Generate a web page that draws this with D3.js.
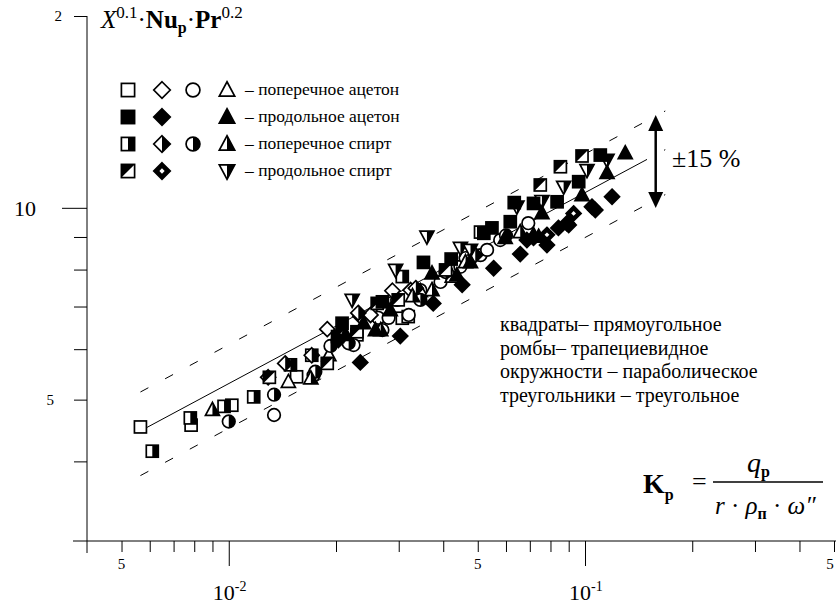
<!DOCTYPE html>
<html>
<head>
<meta charset="utf-8">
<script src="https://cdn.jsdelivr.net/npm/d3@7/dist/d3.min.js"></script>
<style>
  body { margin: 0; background: #fff; }
  svg, svg text, svg tspan { font-family: "Times New Roman", Times, "Liberation Serif", "DejaVu Serif", serif; }
</style>
</head>
<body>
<script>
// data: [x, X^0.1·Nu·Pr^0.2]
const squaresOpen = [[0.00565,4.53],[0.00784,4.56],[0.0102,4.90],[0.0155,5.43],[0.0229,6.32],[0.0307,6.71],[0.0319,6.75]];
const squaresFilled = [[0.0208,6.59],[0.0270,7.12],[0.0352,8.21],[0.0421,8.31],[0.0520,9.12],[0.0548,9.30],[0.0617,9.51],[0.0633,10.19],[0.0717,10.16],[0.0835,10.22],[0.0960,10.99],[0.1104,12.10]];
const squaresHalf = [[0.0061,4.15],[0.0078,4.68],[0.0097,4.88],[0.01175,5.05],[0.0149,5.67],[0.0171,5.87],[0.0307,7.80],[0.0509,9.16]];
const squaresDiag = [[0.0130,5.42],[0.0189,5.70],[0.0202,6.28],[0.0229,6.39],[0.0261,7.08],[0.0299,7.17],[0.0406,7.99],[0.0749,10.86],[0.0853,11.60],[0.0981,12.06]];
const diamondsOpen = [[0.0189,6.45],[0.0234,6.76],[0.0250,6.79],[0.0288,7.41],[0.0324,7.43]];
const diamondsFilled = [[0.0203,6.20],[0.0234,5.72],[0.0303,6.29],[0.0375,7.08],[0.0452,7.57],[0.0554,8.04],[0.0658,8.46],[0.0687,8.90],[0.0782,8.74],[0.0842,9.30],[0.0900,9.40],[0.1046,10.04],[0.1069,9.92],[0.1191,10.41]];
const diamondsHalf = [[0.0129,5.42],[0.0144,5.70],[0.0171,5.87],[0.0231,6.84],[0.0335,7.48],[0.0492,8.43]];
const diamondsDot = [[0.0717,8.97],[0.0782,9.07],[0.0890,9.46],[0.0929,9.80]];
const circlesOpen = [[0.0134,4.73],[0.0173,5.46],[0.0224,6.09],[0.0253,6.79],[0.0263,6.72],[0.0270,6.43],[0.0281,6.72],[0.0297,7.17],[0.0320,6.79],[0.0345,7.43],[0.0393,7.65],[0.0447,8.08],[0.0462,8.34],[0.0509,8.43],[0.0531,8.59],[0.0578,8.90],[0.0693,9.46]];
const circlesHalf = [[0.0100,4.62],[0.0134,5.09],[0.0175,5.53],[0.0193,6.07],[0.0217,6.13],[0.0345,7.17],[0.0406,7.93],[0.0600,9.05]];
const trianglesOpen = [[0.0147,5.33],[0.0191,5.87],[0.0345,7.40],[0.0424,7.80]];
const trianglesFilled = [[0.0213,6.32],[0.0239,6.59],[0.0258,6.43],[0.0284,6.91],[0.0372,7.89],[0.0437,7.84],[0.0477,8.22],[0.0597,8.97],[0.0717,9.07],[0.0741,9.01],[0.0757,9.81],[0.0981,10.47],[0.1153,11.34],[0.1297,12.18]];
const trianglesHalf = [[0.0090,4.82],[0.0170,5.40],[0.0267,6.43],[0.0328,7.27],[0.0372,7.43],[0.0462,8.22],[0.0658,9.16]];
const trianglesDown = [[0.0222,7.17],[0.0294,7.99],[0.0360,9.01],[0.0447,8.65],[0.0477,8.59],[0.0644,10.04],[0.0757,10.25],[0.0871,10.79],[0.1013,11.46],[0.1153,11.89]];

// fit line and ±15 % band (end points)
const fitLine = [[0.00584,4.51],[0.168,12.34]];
const upperLine = [[0.00565,5.14],[0.168,14.19]];
const lowerLine = [[0.00565,3.80],[0.168,10.49]];

// ticks
const xTicks = [0.005,0.006,0.007,0.008,0.009,0.01,0.02,0.03,0.04,0.05,0.06,0.07,0.08,0.09,0.1,0.2,0.3,0.4,0.5];
const xMajor = [0.01, 0.1];
const xFiveLabels = [0.005, 0.05, 0.5];
const xDecadeLabels = [[0.01,'-2'],[0.1,'-1']];
const yTicks = [4,5,6,7,8,9,10,20];
const yLabels = [[20,'2',15,62],[10,'10',22,36],[5,'5',15,54]];

const legendRows = [
  ['– поперечное ацетон', ['square-open','diamond-open','circle-open','triUp-open']],
  ['– продольное ацетон', ['square-fill','diamond-fill',null,'triUp-fill']],
  ['– поперечное спирт', ['square-half','diamond-half','circle-half','triUp-half']],
  ['– продольное спирт', ['square-diag','diamond-dot',null,'triDown-half']]
];
const notes = ['квадраты– прямоугольное','ромбы– трапециевидное','окружности – параболическое','треугольники – треугольное'];

const series = [
  ['square-open', squaresOpen], ['circle-open', circlesOpen], ['diamond-open', diamondsOpen], ['triUp-open', trianglesOpen],
  ['square-half', squaresHalf], ['circle-half', circlesHalf], ['diamond-half', diamondsHalf], ['triUp-half', trianglesHalf],
  ['square-diag', squaresDiag], ['triDown-half', trianglesDown], ['diamond-dot', diamondsDot],
  ['square-fill', squaresFilled], ['diamond-fill', diamondsFilled], ['triUp-fill', trianglesFilled]
];

const width = 836, height = 605;
const svg = d3.select('body').append('svg').attr('width', width).attr('height', height);

const x = d3.scaleLog().domain([0.004, 0.5]).range([87, 834]);
const y = d3.scaleLog().domain([3, 20]).range([541, 16]);

// markers
function drawMarker(g, kind, k = 1) {
  const [shape, style] = kind.split('-');
  const sw = 1.7;
  const base = style === 'fill' || style === 'dot' ? '#000' : '#fff';
  if (shape === 'square') {
    const s = 6 * k;
    g.append('rect').attr('x', -s).attr('y', -s).attr('width', 2 * s).attr('height', 2 * s)
      .attr('fill', base).attr('stroke', '#000').attr('stroke-width', sw);
    if (style === 'half') g.append('rect').attr('x', 0).attr('y', -s).attr('width', s).attr('height', 2 * s).attr('fill', '#000');
    if (style === 'diag') g.append('path').attr('d', `M${-s},${-s}L${s},${-s}L${-s},${s}Z`).attr('fill', '#000');
  } else if (shape === 'diamond') {
    const r = 7.5 * k;
    g.append('path').attr('d', `M0,${-r}L${r},0L0,${r}L${-r},0Z`)
      .attr('fill', base).attr('stroke', '#000').attr('stroke-width', sw);
    if (style === 'half') g.append('path').attr('d', `M0,${-r}L${r},0L0,${r}Z`).attr('fill', '#000');
    if (style === 'dot') {
      const q = r * 0.32;
      g.append('path').attr('d', `M0,${-q}L${q},0L0,${q}L${-q},0Z`).attr('fill', '#fff');
    }
  } else if (shape === 'circle') {
    const r = 6.3 * k;
    g.append('circle').attr('r', r).attr('fill', base).attr('stroke', '#000').attr('stroke-width', sw);
    if (style === 'half') g.append('path').attr('d', `M0,${-r}A${r},${r} 0 0 1 0,${r}Z`).attr('fill', '#000');
  } else {
    const up = shape === 'triUp' ? 1 : -1;
    const t = 7.5 * k, b = 5.5 * k, w = 7 * k;
    g.append('path').attr('d', `M0,${-t * up}L${w},${b * up}L${-w},${b * up}Z`)
      .attr('fill', base).attr('stroke', '#000').attr('stroke-width', sw);
    if (style === 'half') g.append('path').attr('d', `M0,${-t * up}L${w},${b * up}L0,${b * up}Z`).attr('fill', '#000');
  }
}

// axes
const xAxis = svg.append('g').attr('transform', `translate(0,${y(3)})`)
  .call(d3.axisBottom(x).tickValues(xTicks).tickFormat('').tickSizeOuter(0));
xAxis.select('.domain').remove();
xAxis.selectAll('.tick line').attr('y2', d => xMajor.includes(d) ? 25 : 11).attr('stroke', '#000');
svg.append('line').attr('x1', 73).attr('x2', width).attr('y1', y(3)).attr('y2', y(3)).attr('stroke', '#000');

const yAxis = svg.append('g').attr('transform', `translate(${x(0.004)},0)`)
  .call(d3.axisLeft(y).tickValues(yTicks).tickFormat('').tickSizeOuter(0));
yAxis.select('.domain').remove();
yAxis.selectAll('.tick line').attr('x2', d => d === 10 ? -25 : -13).attr('stroke', '#000');
svg.append('line').attr('x1', x(0.004)).attr('x2', x(0.004)).attr('y1', y(20)).attr('y2', 553).attr('stroke', '#000');

svg.selectAll('.x5').data(xFiveLabels).join('text')
  .attr('x', d => Math.min(x(d), width - 6)).attr('y', 569).attr('text-anchor', 'middle').attr('font-size', 15).text('5');
xDecadeLabels.forEach(([v, e]) => {
  const t = svg.append('text').attr('x', x(v) - 16).attr('y', 600).attr('font-size', 22).text('10');
  t.append('tspan').attr('font-size', 14).attr('dy', -9).text(e);
});
yLabels.forEach(([v, s, fs, lx]) => {
  svg.append('text').attr('x', lx).attr('y', y(v) + fs * 0.35)
    .attr('text-anchor', 'end').attr('font-size', fs).text(s);
});

// y title
const yt = svg.append('text').attr('x', 101).attr('y', 28).attr('font-size', 25);
yt.append('tspan').attr('font-style', 'italic').text('X');
yt.append('tspan').attr('font-size', 17).attr('dy', -10).text('0.1');
yt.append('tspan').attr('dy', 10).text('·');
yt.append('tspan').attr('font-weight', 'bold').text('Nu');
yt.append('tspan').attr('font-weight', 'bold').attr('font-size', 16).attr('dy', 5).text('p');
yt.append('tspan').attr('dy', -5).text('·');
yt.append('tspan').attr('font-weight', 'bold').text('Pr');
yt.append('tspan').attr('font-size', 17).attr('dy', -10).text('0.2');

// lines
const line = d3.line().x(d => x(d[0])).y(d => y(d[1]));
svg.append('path').attr('d', line(fitLine)).attr('stroke', '#000').attr('stroke-width', 1).attr('fill', 'none');
[upperLine, lowerLine].forEach(l => svg.append('path').attr('d', line(l))
  .attr('stroke', '#000').attr('stroke-width', 1).attr('stroke-dasharray', '9,19').attr('fill', 'none'));

// points
series.forEach(([kind, data]) => {
  svg.append('g').selectAll('g').data(data).join('g')
    .attr('transform', d => `translate(${x(d[0])},${y(d[1])})`)
    .each(function () { drawMarker(d3.select(this), kind); });
});

// ±15 % arrow
svg.append('rect').attr('x', 647).attr('y', 100).attr('width', 17).attr('height', 120).attr('fill', '#fff');
const ax = 655.7;
svg.append('line').attr('x1', ax).attr('x2', ax).attr('y1', 125).attr('y2', 198).attr('stroke', '#000').attr('stroke-width', 2.5);
svg.append('path').attr('d', `M${ax},115L${ax + 7.5},131L${ax - 7.5},131Z`).attr('fill', '#000');
svg.append('path').attr('d', `M${ax},208L${ax + 7.5},192L${ax - 7.5},192Z`).attr('fill', '#000');
svg.append('text').attr('x', 672).attr('y', 167).attr('font-size', 26).text('±15 %');

// legend
legendRows.forEach(([label, kinds], i) => {
  const ly = 90 + i * 27;
  kinds.forEach((kind, j) => {
    if (!kind) return;
    drawMarker(svg.append('g').attr('transform', `translate(${[128, 162, 193, 227][j]},${ly})`), kind, 1.1);
  });
  svg.append('text').attr('x', 245).attr('y', ly + 5).attr('font-size', 17.5).text(label);
});

// notes
notes.forEach((s, i) => {
  svg.append('text').attr('x', 500).attr('y', 331 + i * 23.5).attr('font-size', 20).text(s);
});

// formula
const f = svg.append('text').attr('x', 643).attr('y', 493).attr('font-size', 28);
f.append('tspan').attr('font-weight', 'bold').text('K');
f.append('tspan').attr('font-weight', 'bold').attr('font-size', 16).attr('dy', 7).text('p');
svg.append('text').attr('x', 692).attr('y', 490).attr('font-size', 26).text('=');
const num = svg.append('text').attr('x', 747).attr('y', 472).attr('font-size', 28);
num.append('tspan').attr('font-style', 'italic').text('q');
num.append('tspan').attr('font-weight', 'bold').attr('font-size', 16).attr('dy', 5).text('p');
svg.append('line').attr('x1', 713).attr('x2', 823).attr('y1', 482).attr('y2', 482).attr('stroke', '#000').attr('stroke-width', 1.3);
const den = svg.append('text').attr('x', 715).attr('y', 514).attr('font-size', 25);
den.append('tspan').attr('font-style', 'italic').text('r');
den.append('tspan').text(' · ');
den.append('tspan').attr('font-style', 'italic').text('ρ');
den.append('tspan').attr('font-weight', 'bold').attr('font-size', 16).attr('dy', 5).text('п');
den.append('tspan').attr('dy', -5).text(' · ');
den.append('tspan').attr('font-style', 'italic').text('ω″');
</script>
</body>
</html>
